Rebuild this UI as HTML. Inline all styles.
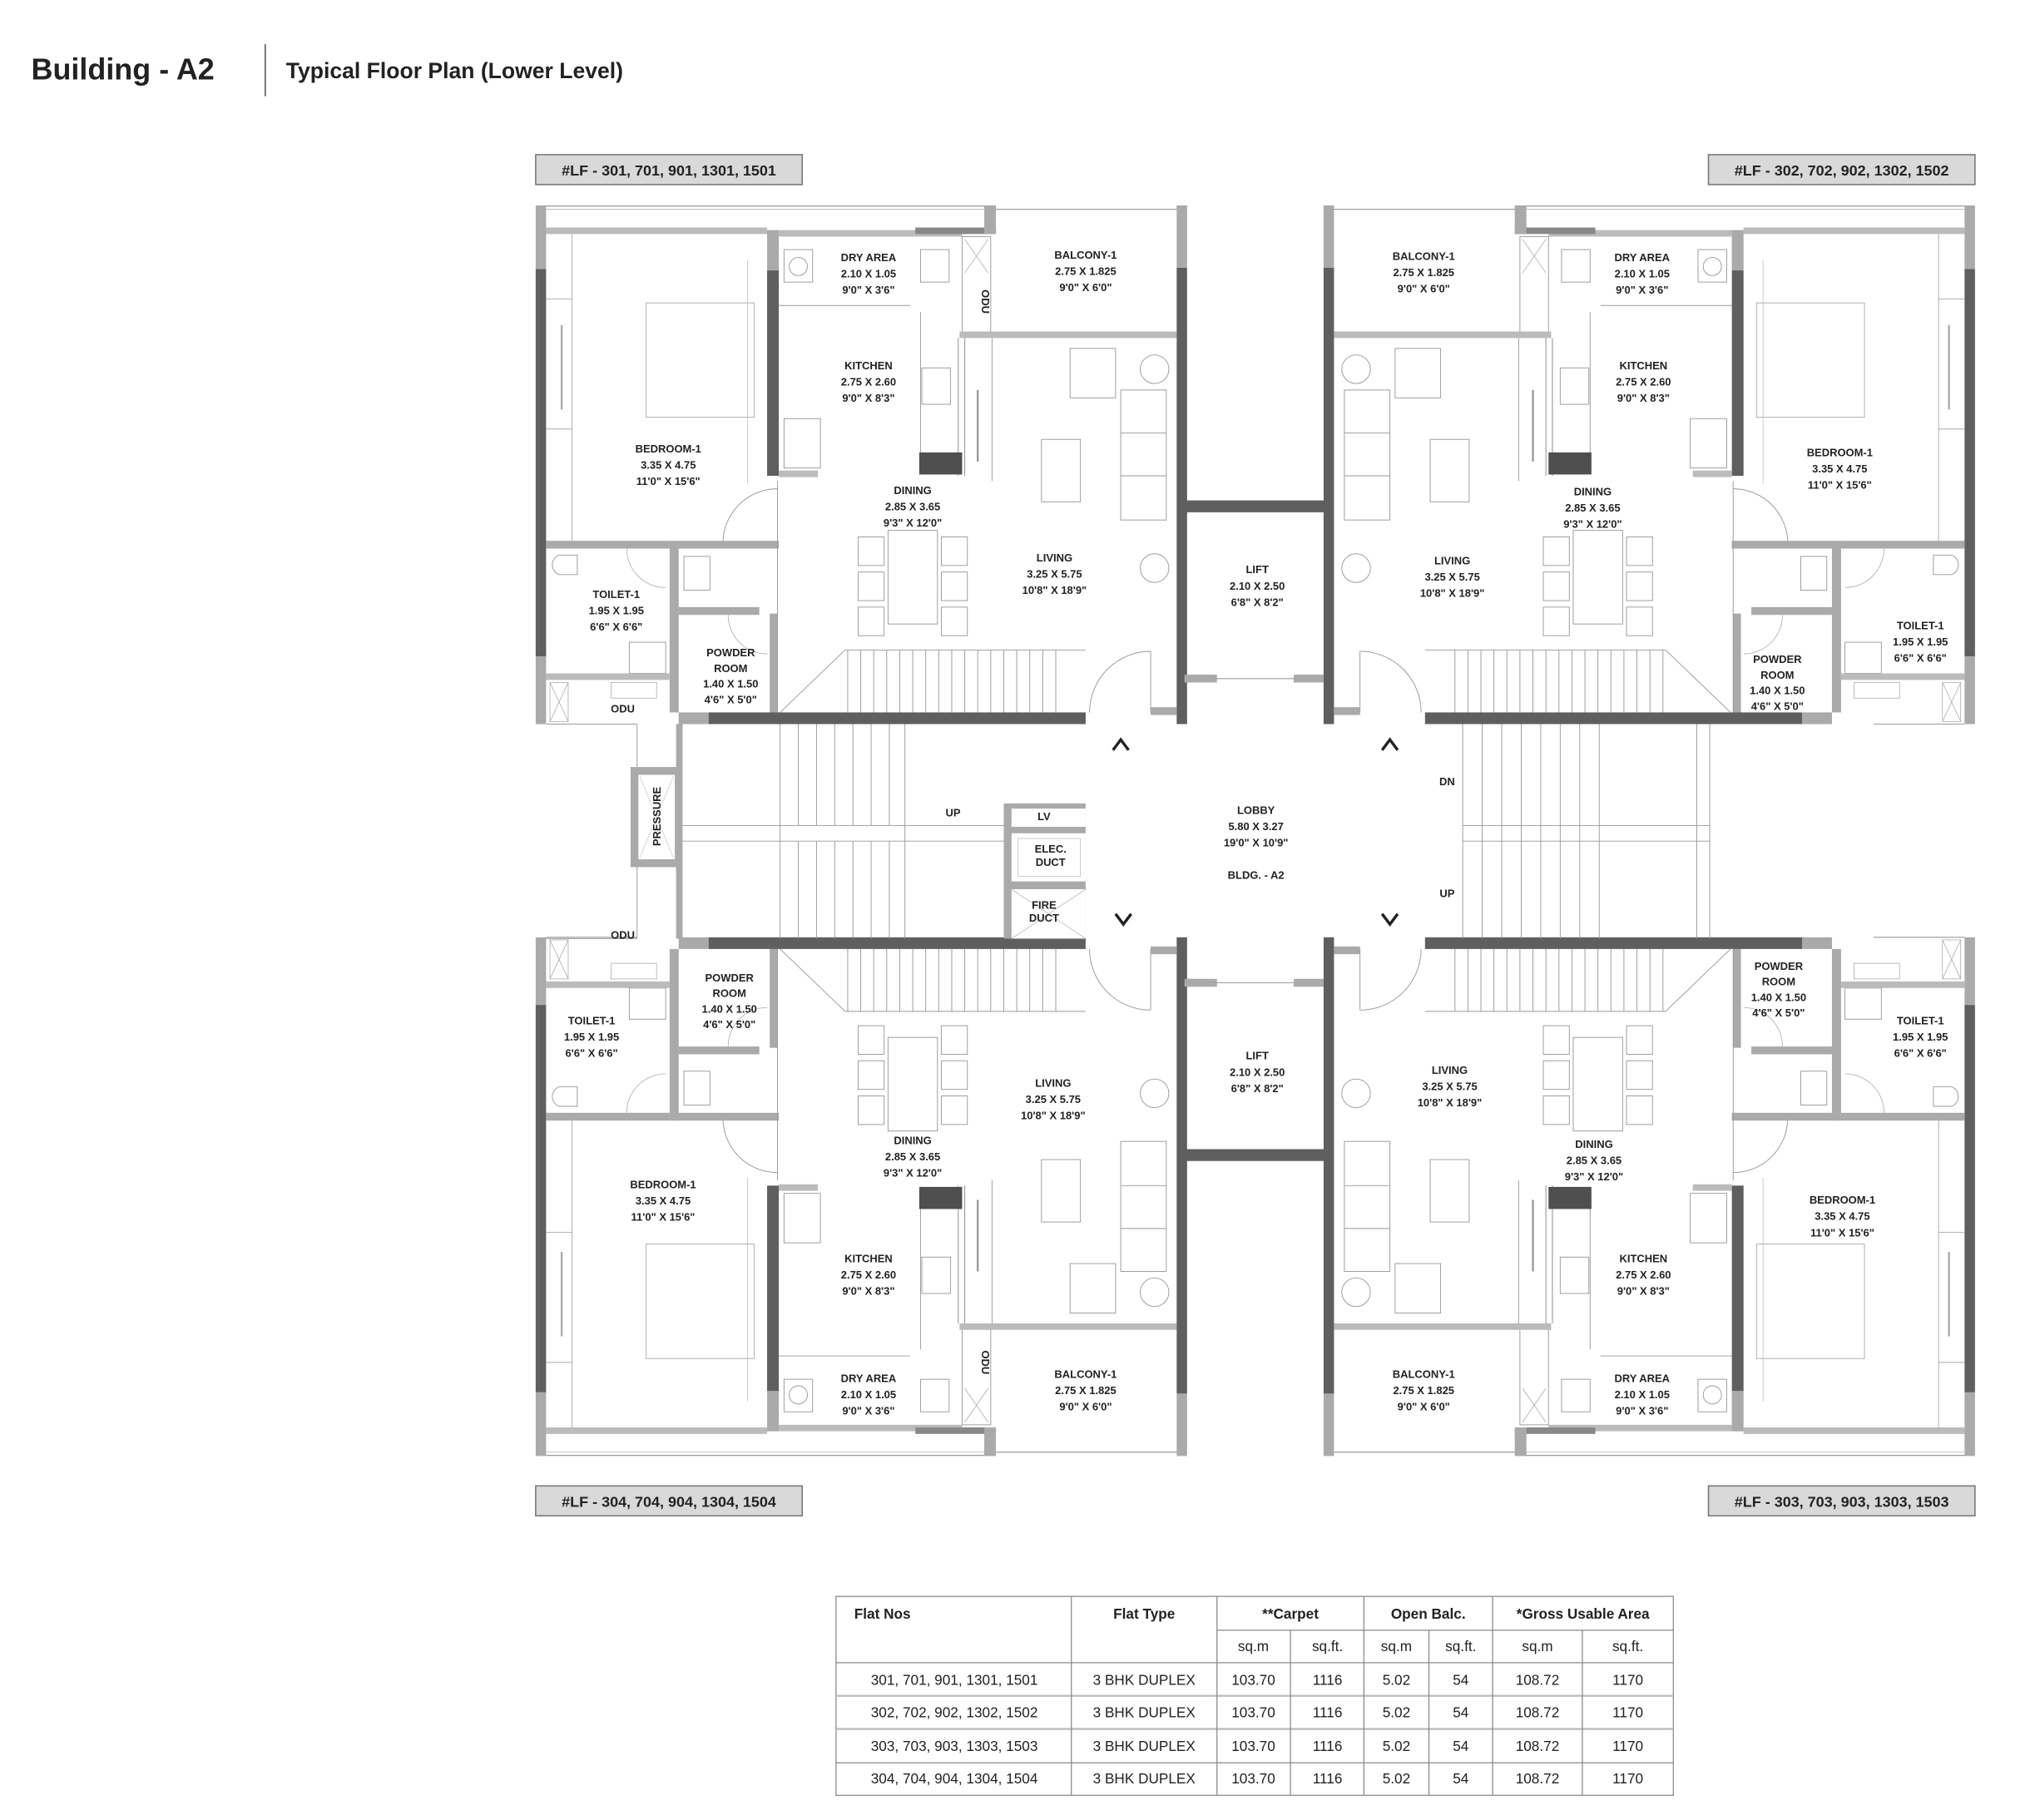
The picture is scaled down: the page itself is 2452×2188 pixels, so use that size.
<!DOCTYPE html>
<html><head><meta charset="utf-8"><style>
html,body{margin:0;padding:0;background:#fff;width:2452px;height:2188px;overflow:hidden}
svg{display:block}
text{font-family:"Liberation Sans",sans-serif;font-weight:bold;fill:#222}
.l{font-size:8.3px;text-anchor:middle}
</style></head><body>
<svg width="2452" height="2188" viewBox="0 0 1569 1400" preserveAspectRatio="none" xmlns="http://www.w3.org/2000/svg">
<defs>
<g id="flat">
  <!-- outer left wall -->
  <rect x="412" y="158" width="8" height="49" fill="#aaa"/>
  <rect x="412" y="207" width="8" height="298" fill="#5f5f5f"/>
  <rect x="412" y="505" width="8" height="52" fill="#aaa"/>
  <line x1="420" y1="158.5" x2="760" y2="158.5" stroke="#999" stroke-width="0.8"/>
  <line x1="420" y1="161" x2="760" y2="161" stroke="#bbb" stroke-width="0.6"/>
  <rect x="420" y="175" width="170" height="5" fill="#bbb"/>
  <!-- bedroom/kitchen wall -->
  <rect x="590" y="177" width="9" height="31" fill="#aaa"/>
  <rect x="590" y="208" width="9" height="158" fill="#5f5f5f"/>
  <rect x="599" y="177" width="141" height="5" fill="#bbb"/>
  <rect x="704" y="175" width="62" height="5" fill="#888"/>
  <rect x="757" y="158" width="9" height="22" fill="#aaa"/>
  <!-- dry area/kitchen divider -->
  <line x1="599" y1="235" x2="700" y2="235" stroke="#999" stroke-width="0.6"/>
  <rect x="603" y="192" width="22" height="25" fill="none" stroke="#999" stroke-width="0.6"/>
  <circle cx="614" cy="205" r="7" fill="none" stroke="#999" stroke-width="0.6"/>
  <rect x="708" y="192" width="22" height="25" fill="none" stroke="#999" stroke-width="0.6"/>
  <!-- ODU strip -->
  <rect x="740" y="182" width="22" height="76" fill="none" stroke="#999" stroke-width="0.6"/>
  <path d="M742 184 L760 210 M760 184 L742 210" stroke="#aaa" stroke-width="0.5"/>
  <rect x="738" y="255" width="167" height="5" fill="#bbb"/>
  <!-- balcony -->
  <line x1="766" y1="161" x2="905" y2="161" stroke="#999" stroke-width="0.8"/>
  <rect x="905" y="158" width="8" height="48" fill="#aaa"/>
  <rect x="905" y="206" width="8" height="351" fill="#5f5f5f"/>
  <!-- kitchen -->
  <line x1="737" y1="260" x2="737" y2="366" stroke="#999" stroke-width="0.7"/>
  <line x1="742" y1="260" x2="742" y2="366" stroke="#999" stroke-width="0.7"/>
  <line x1="708" y1="240" x2="708" y2="348" stroke="#999" stroke-width="0.6"/>
  <rect x="709" y="283" width="22" height="28" fill="none" stroke="#999" stroke-width="0.6"/>
  <rect x="707" y="348" width="33" height="17" fill="#4f4f4f"/>
  <rect x="599" y="362" width="30" height="5" fill="#bbb"/>
  <rect x="603" y="322" width="28" height="38" fill="none" stroke="#999" stroke-width="0.6"/>
  <line x1="752" y1="300" x2="752" y2="355" stroke="#999" stroke-width="1.5"/>
  <!-- lift top wall stub -->
  <rect x="913" y="385" width="107" height="9" fill="#5f5f5f"/>
  <rect x="913" y="519" width="23" height="6" fill="#aaa"/>
  <rect x="997" y="519" width="23" height="6" fill="#aaa"/>
  <line x1="936" y1="522" x2="997" y2="522" stroke="#999" stroke-width="0.6"/>
  <!-- bedroom furniture -->
  <line x1="440" y1="180" x2="440" y2="416" stroke="#aaa" stroke-width="0.6"/>
  <line x1="420" y1="230" x2="440" y2="230" stroke="#aaa" stroke-width="0.6"/>
  <line x1="420" y1="330" x2="440" y2="330" stroke="#aaa" stroke-width="0.6"/>
  <line x1="432" y1="250" x2="432" y2="315" stroke="#aaa" stroke-width="1.5"/>
  <rect x="497" y="233" width="83" height="88" fill="none" stroke="#aaa" stroke-width="0.6"/>
  <line x1="575" y1="200" x2="575" y2="372" stroke="#bbb" stroke-width="0.5"/>
  <!-- bedroom door -->
  <path d="M556 418 A42 42 0 0 1 598 376" fill="none" stroke="#999" stroke-width="0.6"/>
  <!-- toilet & powder -->
  <rect x="420" y="416" width="95" height="6" fill="#aaa"/>
  <rect x="520" y="416" width="79" height="6" fill="#aaa"/>
  <rect x="515" y="416" width="7" height="132" fill="#aaa"/>
  <rect x="522" y="467" width="62" height="6" fill="#aaa"/>
  <rect x="592" y="472" width="6" height="76" fill="#aaa"/>
  <path d="M430 427 h14 v15 h-14 a8 8 0 0 1 0 -15z" fill="none" stroke="#999" stroke-width="0.6"/>
  <rect x="526" y="428" width="20" height="26" fill="none" stroke="#999" stroke-width="0.6"/>
  <rect x="484" y="494" width="28" height="24" fill="none" stroke="#999" stroke-width="0.6"/>
  <path d="M482 422 A30 30 0 0 0 512 452" fill="none" stroke="#aaa" stroke-width="0.5"/>
  <path d="M560 473 A30 30 0 0 0 590 503" fill="none" stroke="#aaa" stroke-width="0.5"/>
  <!-- ODU bottom -->
  <rect x="420" y="518" width="95" height="5" fill="#bbb"/>
  <rect x="423" y="525" width="14" height="30" fill="none" stroke="#aaa" stroke-width="0.5"/>
  <path d="M423 525 L437 555 M437 525 L423 555" stroke="#aaa" stroke-width="0.5"/>
  <rect x="470" y="525" width="35" height="12" fill="none" stroke="#aaa" stroke-width="0.5"/>
  <line x1="420" y1="557" x2="490" y2="557" stroke="#999" stroke-width="0.7"/>
  <!-- stair-hall wall -->
  <rect x="522" y="548" width="23" height="9" fill="#aaa"/>
  <rect x="545" y="548" width="290" height="9" fill="#5f5f5f"/>
  <!-- living-stairs (duplex) -->
  <g stroke="#999" stroke-width="0.6">
    <line x1="650" y1="500" x2="835" y2="500"/>
    <line x1="652" y1="500" x2="652" y2="548"/><line x1="662" y1="500" x2="662" y2="548"/>
    <line x1="672" y1="500" x2="672" y2="548"/><line x1="682" y1="500" x2="682" y2="548"/>
    <line x1="692" y1="500" x2="692" y2="548"/><line x1="702" y1="500" x2="702" y2="548"/>
    <line x1="712" y1="500" x2="712" y2="548"/><line x1="722" y1="500" x2="722" y2="548"/>
    <line x1="732" y1="500" x2="732" y2="548"/><line x1="742" y1="500" x2="742" y2="548"/>
    <line x1="752" y1="500" x2="752" y2="548"/><line x1="762" y1="500" x2="762" y2="548"/>
    <line x1="772" y1="500" x2="772" y2="548"/><line x1="782" y1="500" x2="782" y2="548"/>
    <line x1="792" y1="500" x2="792" y2="548"/><line x1="802" y1="500" x2="802" y2="548"/>
    <line x1="812" y1="500" x2="812" y2="548"/>
    <line x1="600" y1="548" x2="650" y2="500"/>
    <line x1="598" y1="370" x2="598" y2="548"/>
  </g>
  <!-- dining -->
  <g fill="none" stroke="#999" stroke-width="0.6">
    <rect x="683" y="408" width="38" height="72"/>
    <rect x="660" y="413" width="20" height="22"/><rect x="660" y="440" width="20" height="22"/><rect x="660" y="467" width="20" height="22"/>
    <rect x="724" y="413" width="20" height="22"/><rect x="724" y="440" width="20" height="22"/><rect x="724" y="467" width="20" height="22"/>
    <rect x="823" y="268" width="35" height="38"/>
    <circle cx="888" cy="284" r="11"/>
    <rect x="862" y="300" width="35" height="100"/>
    <line x1="862" y1="333" x2="897" y2="333"/><line x1="862" y1="366" x2="897" y2="366"/>
    <rect x="801" y="338" width="30" height="48"/>
    <circle cx="888" cy="437" r="11"/>
    <line x1="763" y1="260" x2="763" y2="370"/>
  </g>
  <!-- entry door -->
  <path d="M838 548 A47 47 0 0 1 885 501" fill="none" stroke="#999" stroke-width="0.6"/>
  <line x1="885" y1="501" x2="885" y2="548" stroke="#999" stroke-width="0.6"/>
  <rect x="885" y="544" width="20" height="6" fill="#aaa"/>
</g>
</defs>

<use href="#flat"/>
<use href="#flat" transform="translate(1931,0) scale(-1,1)"/>
<use href="#flat" transform="translate(0,1278) scale(1,-1)"/>
<use href="#flat" transform="translate(1931,1278) scale(-1,-1)"/>

<!-- central stair hall -->
<g stroke="#999" stroke-width="0.6" fill="none">
  <line x1="522" y1="557" x2="522" y2="722"/>
  <line x1="522" y1="635" x2="772" y2="635"/><line x1="522" y1="647" x2="772" y2="647"/>
  <line x1="600" y1="557" x2="600" y2="722"/><line x1="614" y1="557" x2="614" y2="635"/><line x1="628" y1="557" x2="628" y2="635"/>
  <line x1="642" y1="557" x2="642" y2="635"/><line x1="656" y1="557" x2="656" y2="635"/><line x1="670" y1="557" x2="670" y2="635"/>
  <line x1="684" y1="557" x2="684" y2="635"/><line x1="696" y1="557" x2="696" y2="722"/>
  <line x1="614" y1="647" x2="614" y2="722"/><line x1="628" y1="647" x2="628" y2="722"/><line x1="642" y1="647" x2="642" y2="722"/>
  <line x1="656" y1="647" x2="656" y2="722"/><line x1="670" y1="647" x2="670" y2="722"/><line x1="684" y1="647" x2="684" y2="722"/>
  <line x1="1315" y1="557" x2="1315" y2="722"/>
  <line x1="1125" y1="635" x2="1315" y2="635"/><line x1="1125" y1="647" x2="1315" y2="647"/>
  <line x1="1125" y1="557" x2="1125" y2="722"/><line x1="1140" y1="557" x2="1140" y2="722"/><line x1="1155" y1="557" x2="1155" y2="722"/>
  <line x1="1170" y1="557" x2="1170" y2="722"/><line x1="1185" y1="557" x2="1185" y2="722"/><line x1="1200" y1="557" x2="1200" y2="722"/>
  <line x1="1215" y1="557" x2="1215" y2="722"/><line x1="1230" y1="557" x2="1230" y2="722"/>
  <line x1="1305" y1="557" x2="1305" y2="722"/>
  <line x1="420" y1="722" x2="490" y2="722"/>
  <line x1="490" y1="557" x2="490" y2="590"/><line x1="490" y1="667" x2="490" y2="722"/>
</g>
<rect x="520" y="557" width="5" height="165" fill="#aaa"/>
<rect x="485" y="590" width="37" height="77" fill="#aaa"/>
<rect x="491" y="596" width="28" height="65" fill="#fff"/>
<path d="M492 597 L518 660 M518 597 L492 660" stroke="#ccc" stroke-width="0.5"/>
<!-- ducts -->
<rect x="772" y="618" width="63" height="104" fill="#aaa"/>
<rect x="778" y="622" width="57" height="14" fill="#fff"/>
<rect x="778" y="641" width="57" height="37" fill="#fff"/>
<rect x="778" y="684" width="57" height="38" fill="#fff"/>
<path d="M778 684 L835 722 M835 684 L778 722" stroke="#bbb" stroke-width="0.5"/>
<rect x="783" y="645" width="48" height="29" fill="none" stroke="#bbb" stroke-width="0.5"/>
<!-- lobby arrows -->
<g fill="none" stroke="#222" stroke-width="2.2">
<path d="M856 577 L862 569 L868 577"/><path d="M1063 577 L1069 569 L1075 577"/>
<path d="M858 703 L864 711 L870 703"/><path d="M1063 703 L1069 711 L1075 703"/>
</g>

<!-- title -->
<text x="24" y="61" style="font-size:23px">Building - A2</text>
<line x1="204" y1="34" x2="204" y2="74" stroke="#555" stroke-width="1"/>
<text x="220" y="60" style="font-size:17px">Typical Floor Plan (Lower Level)</text>

<!-- tags -->
<g fill="#d9d9d9" stroke="#777" stroke-width="1">
<rect x="412" y="119" width="205" height="23"/><rect x="1314" y="119" width="205" height="23"/>
<rect x="412" y="1143" width="205" height="23"/><rect x="1314" y="1143" width="205" height="23"/>
</g>
<g style="font-size:11.5px" text-anchor="middle">
<text x="514.5" y="135">#LF - 301, 701, 901, 1301, 1501</text>
<text x="1416.5" y="135">#LF - 302, 702, 902, 1302, 1502</text>
<text x="514.5" y="1159">#LF - 304, 704, 904, 1304, 1504</text>
<text x="1416.5" y="1159">#LF - 303, 703, 903, 1303, 1503</text>
</g>

<!-- room labels -->
<g class="l">
<text class="l" x="668" y="201"><tspan x="668">DRY AREA</tspan><tspan x="668" dy="12.5">2.10 X 1.05</tspan><tspan x="668" dy="12.5">9'0" X 3'6"</tspan></text>
<text class="l" x="835" y="199"><tspan x="835">BALCONY-1</tspan><tspan x="835" dy="12.5">2.75 X 1.825</tspan><tspan x="835" dy="12.5">9'0" X 6'0"</tspan></text>
<text class="l" x="668" y="284"><tspan x="668">KITCHEN</tspan><tspan x="668" dy="12.5">2.75 X 2.60</tspan><tspan x="668" dy="12.5">9'0" X 8'3"</tspan></text>
<text class="l" x="514" y="348"><tspan x="514">BEDROOM-1</tspan><tspan x="514" dy="12.5">3.35 X 4.75</tspan><tspan x="514" dy="12.5">11'0" X 15'6"</tspan></text>
<text class="l" x="702" y="380"><tspan x="702">DINING</tspan><tspan x="702" dy="12.5">2.85 X 3.65</tspan><tspan x="702" dy="12.5">9'3" X 12'0"</tspan></text>
<text class="l" x="811" y="432"><tspan x="811">LIVING</tspan><tspan x="811" dy="12.5">3.25 X 5.75</tspan><tspan x="811" dy="12.5">10'8" X 18'9"</tspan></text>
<text class="l" x="474" y="460"><tspan x="474">TOILET-1</tspan><tspan x="474" dy="12.5">1.95 X 1.95</tspan><tspan x="474" dy="12.5">6'6" X 6'6"</tspan></text>
<text class="l" x="562" y="505"><tspan x="562">POWDER</tspan><tspan x="562" dy="12">ROOM</tspan><tspan x="562" dy="12">1.40 X 1.50</tspan><tspan x="562" dy="12">4'6" X 5'0"</tspan></text>
<text class="l" x="479" y="548">ODU</text>
<text class="l" transform="translate(755,232) rotate(90)" x="0" y="0">ODU</text>

<text class="l" x="1095" y="200"><tspan x="1095">BALCONY-1</tspan><tspan x="1095" dy="12.5">2.75 X 1.825</tspan><tspan x="1095" dy="12.5">9'0" X 6'0"</tspan></text>
<text class="l" x="1263" y="201"><tspan x="1263">DRY AREA</tspan><tspan x="1263" dy="12.5">2.10 X 1.05</tspan><tspan x="1263" dy="12.5">9'0" X 3'6"</tspan></text>
<text class="l" x="1264" y="284"><tspan x="1264">KITCHEN</tspan><tspan x="1264" dy="12.5">2.75 X 2.60</tspan><tspan x="1264" dy="12.5">9'0" X 8'3"</tspan></text>
<text class="l" x="1415" y="351"><tspan x="1415">BEDROOM-1</tspan><tspan x="1415" dy="12.5">3.35 X 4.75</tspan><tspan x="1415" dy="12.5">11'0" X 15'6"</tspan></text>
<text class="l" x="1225" y="381"><tspan x="1225">DINING</tspan><tspan x="1225" dy="12.5">2.85 X 3.65</tspan><tspan x="1225" dy="12.5">9'3" X 12'0"</tspan></text>
<text class="l" x="1117" y="434"><tspan x="1117">LIVING</tspan><tspan x="1117" dy="12.5">3.25 X 5.75</tspan><tspan x="1117" dy="12.5">10'8" X 18'9"</tspan></text>
<text class="l" x="1477" y="484"><tspan x="1477">TOILET-1</tspan><tspan x="1477" dy="12.5">1.95 X 1.95</tspan><tspan x="1477" dy="12.5">6'6" X 6'6"</tspan></text>
<text class="l" x="1367" y="510"><tspan x="1367">POWDER</tspan><tspan x="1367" dy="12">ROOM</tspan><tspan x="1367" dy="12">1.40 X 1.50</tspan><tspan x="1367" dy="12">4'6" X 5'0"</tspan></text>

<text class="l" x="967" y="441"><tspan x="967">LIFT</tspan><tspan x="967" dy="12.5">2.10 X 2.50</tspan><tspan x="967" dy="12.5">6'8" X 8'2"</tspan></text>
<text class="l" x="967" y="815"><tspan x="967">LIFT</tspan><tspan x="967" dy="12.5">2.10 X 2.50</tspan><tspan x="967" dy="12.5">6'8" X 8'2"</tspan></text>
<text class="l" x="966" y="626"><tspan x="966">LOBBY</tspan><tspan x="966" dy="12.5">5.80 X 3.27</tspan><tspan x="966" dy="12.5">19'0" X 10'9"</tspan><tspan x="966" dy="25">BLDG. - A2</tspan></text>
<text class="l" x="733" y="628">UP</text>
<text class="l" x="803" y="631">LV</text>
<text class="l" x="808" y="656"><tspan x="808">ELEC.</tspan><tspan x="808" dy="10">DUCT</tspan></text>
<text class="l" x="803" y="699"><tspan x="803">FIRE</tspan><tspan x="803" dy="10">DUCT</tspan></text>
<text class="l" transform="translate(508,628) rotate(-90)" x="0" y="0">PRESSURE</text>
<text class="l" x="1113" y="604">DN</text>
<text class="l" x="1113" y="690">UP</text>

<text class="l" x="479" y="722">ODU</text>
<text class="l" x="561" y="755"><tspan x="561">POWDER</tspan><tspan x="561" dy="12">ROOM</tspan><tspan x="561" dy="12">1.40 X 1.50</tspan><tspan x="561" dy="12">4'6" X 5'0"</tspan></text>
<text class="l" x="455" y="788"><tspan x="455">TOILET-1</tspan><tspan x="455" dy="12.5">1.95 X 1.95</tspan><tspan x="455" dy="12.5">6'6" X 6'6"</tspan></text>
<text class="l" x="810" y="836"><tspan x="810">LIVING</tspan><tspan x="810" dy="12.5">3.25 X 5.75</tspan><tspan x="810" dy="12.5">10'8" X 18'9"</tspan></text>
<text class="l" x="702" y="880"><tspan x="702">DINING</tspan><tspan x="702" dy="12.5">2.85 X 3.65</tspan><tspan x="702" dy="12.5">9'3" X 12'0"</tspan></text>
<text class="l" x="510" y="914"><tspan x="510">BEDROOM-1</tspan><tspan x="510" dy="12.5">3.35 X 4.75</tspan><tspan x="510" dy="12.5">11'0" X 15'6"</tspan></text>
<text class="l" x="668" y="971"><tspan x="668">KITCHEN</tspan><tspan x="668" dy="12.5">2.75 X 2.60</tspan><tspan x="668" dy="12.5">9'0" X 8'3"</tspan></text>
<text class="l" transform="translate(755,1048) rotate(90)" x="0" y="0">ODU</text>
<text class="l" x="668" y="1063"><tspan x="668">DRY AREA</tspan><tspan x="668" dy="12.5">2.10 X 1.05</tspan><tspan x="668" dy="12.5">9'0" X 3'6"</tspan></text>
<text class="l" x="835" y="1060"><tspan x="835">BALCONY-1</tspan><tspan x="835" dy="12.5">2.75 X 1.825</tspan><tspan x="835" dy="12.5">9'0" X 6'0"</tspan></text>

<text class="l" x="1368" y="746"><tspan x="1368">POWDER</tspan><tspan x="1368" dy="12">ROOM</tspan><tspan x="1368" dy="12">1.40 X 1.50</tspan><tspan x="1368" dy="12">4'6" X 5'0"</tspan></text>
<text class="l" x="1477" y="788"><tspan x="1477">TOILET-1</tspan><tspan x="1477" dy="12.5">1.95 X 1.95</tspan><tspan x="1477" dy="12.5">6'6" X 6'6"</tspan></text>
<text class="l" x="1115" y="826"><tspan x="1115">LIVING</tspan><tspan x="1115" dy="12.5">3.25 X 5.75</tspan><tspan x="1115" dy="12.5">10'8" X 18'9"</tspan></text>
<text class="l" x="1226" y="883"><tspan x="1226">DINING</tspan><tspan x="1226" dy="12.5">2.85 X 3.65</tspan><tspan x="1226" dy="12.5">9'3" X 12'0"</tspan></text>
<text class="l" x="1417" y="926"><tspan x="1417">BEDROOM-1</tspan><tspan x="1417" dy="12.5">3.35 X 4.75</tspan><tspan x="1417" dy="12.5">11'0" X 15'6"</tspan></text>
<text class="l" x="1264" y="971"><tspan x="1264">KITCHEN</tspan><tspan x="1264" dy="12.5">2.75 X 2.60</tspan><tspan x="1264" dy="12.5">9'0" X 8'3"</tspan></text>
<text class="l" x="1095" y="1060"><tspan x="1095">BALCONY-1</tspan><tspan x="1095" dy="12.5">2.75 X 1.825</tspan><tspan x="1095" dy="12.5">9'0" X 6'0"</tspan></text>
<text class="l" x="1263" y="1063"><tspan x="1263">DRY AREA</tspan><tspan x="1263" dy="12.5">2.10 X 1.05</tspan><tspan x="1263" dy="12.5">9'0" X 3'6"</tspan></text>
</g>

<!-- table -->
<g stroke="#888" stroke-width="0.8" fill="none">
<rect x="643" y="1228" width="644" height="153"/>
<line x1="643" y1="1279" x2="1287" y2="1279"/>
<line x1="643" y1="1304.5" x2="1287" y2="1304.5" stroke="#bbb" stroke-width="1.5"/>
<line x1="643" y1="1330" x2="1287" y2="1330" stroke="#bbb" stroke-width="1.5"/>
<line x1="643" y1="1356" x2="1287" y2="1356"/>
<line x1="936" y1="1254" x2="1287" y2="1254"/>
<line x1="824" y1="1228" x2="824" y2="1381"/><line x1="936" y1="1228" x2="936" y2="1381"/>
<line x1="992.5" y1="1254" x2="992.5" y2="1381"/><line x1="1049" y1="1228" x2="1049" y2="1381"/>
<line x1="1099" y1="1254" x2="1099" y2="1381"/><line x1="1148" y1="1228" x2="1148" y2="1381"/>
<line x1="1217" y1="1254" x2="1217" y2="1381"/>
</g>
<g style="font-size:11px">
<text x="657" y="1245">Flat Nos</text>
<text x="880" y="1245" text-anchor="middle">Flat Type</text>
<text x="992.5" y="1245" text-anchor="middle">**Carpet</text>
<text x="1098.5" y="1245" text-anchor="middle">Open Balc.</text>
<text x="1217.5" y="1245" text-anchor="middle">*Gross Usable Area</text>
</g>
<g style="font-size:11px;font-weight:normal" text-anchor="middle">
<text style="font-weight:normal" x="964" y="1270">sq.m</text><text style="font-weight:normal" x="1021" y="1270">sq.ft.</text>
<text style="font-weight:normal" x="1074" y="1270">sq.m</text><text style="font-weight:normal" x="1123.5" y="1270">sq.ft.</text>
<text style="font-weight:normal" x="1182.5" y="1270">sq.m</text><text style="font-weight:normal" x="1252" y="1270">sq.ft.</text>
</g>
<g style="font-size:11px" text-anchor="middle">
<text style="font-weight:normal" x="734" y="1296">301, 701, 901, 1301, 1501</text>
<text style="font-weight:normal" x="734" y="1321">302, 702, 902, 1302, 1502</text>
<text style="font-weight:normal" x="734" y="1347">303, 703, 903, 1303, 1503</text>
<text style="font-weight:normal" x="734" y="1372">304, 704, 904, 1304, 1504</text>
</g>
<g id="rowvals" style="font-size:11px" text-anchor="middle">
<text style="font-weight:normal" x="880" y="1296">3 BHK DUPLEX</text><text style="font-weight:normal" x="964" y="1296">103.70</text><text style="font-weight:normal" x="1021" y="1296">1116</text><text style="font-weight:normal" x="1074" y="1296">5.02</text><text style="font-weight:normal" x="1123.5" y="1296">54</text><text style="font-weight:normal" x="1182.5" y="1296">108.72</text><text style="font-weight:normal" x="1252" y="1296">1170</text>
<text style="font-weight:normal" x="880" y="1321">3 BHK DUPLEX</text><text style="font-weight:normal" x="964" y="1321">103.70</text><text style="font-weight:normal" x="1021" y="1321">1116</text><text style="font-weight:normal" x="1074" y="1321">5.02</text><text style="font-weight:normal" x="1123.5" y="1321">54</text><text style="font-weight:normal" x="1182.5" y="1321">108.72</text><text style="font-weight:normal" x="1252" y="1321">1170</text>
<text style="font-weight:normal" x="880" y="1347">3 BHK DUPLEX</text><text style="font-weight:normal" x="964" y="1347">103.70</text><text style="font-weight:normal" x="1021" y="1347">1116</text><text style="font-weight:normal" x="1074" y="1347">5.02</text><text style="font-weight:normal" x="1123.5" y="1347">54</text><text style="font-weight:normal" x="1182.5" y="1347">108.72</text><text style="font-weight:normal" x="1252" y="1347">1170</text>
<text style="font-weight:normal" x="880" y="1372">3 BHK DUPLEX</text><text style="font-weight:normal" x="964" y="1372">103.70</text><text style="font-weight:normal" x="1021" y="1372">1116</text><text style="font-weight:normal" x="1074" y="1372">5.02</text><text style="font-weight:normal" x="1123.5" y="1372">54</text><text style="font-weight:normal" x="1182.5" y="1372">108.72</text><text style="font-weight:normal" x="1252" y="1372">1170</text>
</g>
</svg>
</body></html>
